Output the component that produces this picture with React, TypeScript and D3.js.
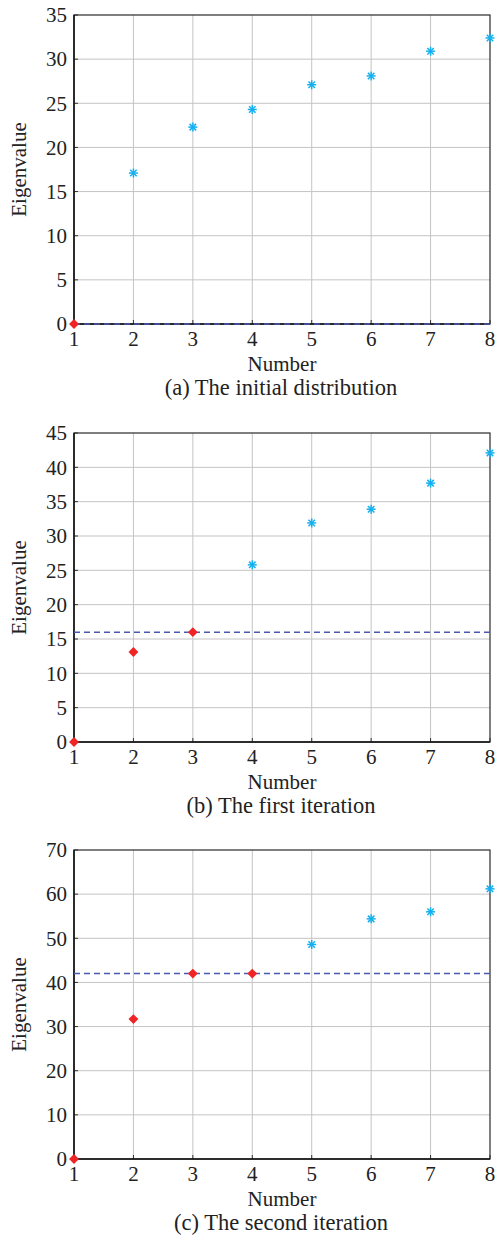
import React from "react";
import * as d3 from "d3";

// x positions (eigenvalue index)
const numbers = [1, 2, 3, 4, 5, 6, 7, 8];

// eigenvalues per stage
const eigenInitial = [0, 17.1, 22.3, 24.3, 27.1, 28.1, 30.9, 32.4];
const eigenFirst = [0, 13.1, 16.0, 25.8, 31.9, 33.9, 37.7, 42.1];
const eigenSecond = [0, 31.7, 42.0, 42.0, 48.6, 54.4, 56.0, 61.2];

// how many leading points are marked red, and the dashed threshold
const selectedCounts = [1, 3, 4];
const thresholds = [0, 16, 42];

const yMaxes = [35, 45, 70];
const yTicksList = [
  [0, 5, 10, 15, 20, 25, 30, 35],
  [0, 5, 10, 15, 20, 25, 30, 35, 40, 45],
  [0, 10, 20, 30, 40, 50, 60, 70],
];
const captions = [
  "(a) The initial distribution",
  "(b) The first iteration",
  "(c) The second iteration",
];
const series = [eigenInitial, eigenFirst, eigenSecond];

const W = 501;
const H = 1236;
const left = 74;
const right = 490;
const plotH = 309;
const tops = [15, 433, 850];
const font = "'Liberation Serif', 'Times New Roman', serif";
const fs = 21;

const diamond = d3.symbol().type(d3.symbolDiamond2).size(62)();

function Asterisk({ x, y }: { x: number; y: number }) {
  const r = 4.5;
  const d = r * 0.72;
  return (
    <g stroke="#14b0f0" strokeWidth={1.5}>
      <line x1={x - r} y1={y} x2={x + r} y2={y} />
      <line x1={x} y1={y - r} x2={x} y2={y + r} />
      <line x1={x - d} y1={y - d} x2={x + d} y2={y + d} />
      <line x1={x - d} y1={y + d} x2={x + d} y2={y - d} />
    </g>
  );
}

function Panel({ idx }: { idx: number }) {
  const top = tops[idx];
  const bottom = top + plotH;
  const x = d3.scaleLinear().domain([1, 8]).range([left, right]);
  const y = d3.scaleLinear().domain([0, yMaxes[idx]]).range([bottom, top]);
  const vals = series[idx];
  const nSel = selectedCounts[idx];

  return (
    <g fontFamily={font} fill="#222">
      {/* grid */}
      {numbers.slice(1, -1).map((n) => (
        <line key={"gx" + n} x1={x(n)} x2={x(n)} y1={top} y2={bottom} stroke="#c4c4c4" strokeWidth={1} />
      ))}
      {yTicksList[idx].slice(1, -1).map((t) => (
        <line key={"gy" + t} x1={left} x2={right} y1={y(t)} y2={y(t)} stroke="#c4c4c4" strokeWidth={1} />
      ))}
      {/* ticks */}
      {numbers.map((n) => (
        <line key={"tx" + n} x1={x(n)} x2={x(n)} y1={bottom} y2={bottom - 4} stroke="#333" strokeWidth={1} />
      ))}
      {yTicksList[idx].map((t) => (
        <line key={"ty" + t} x1={left} x2={left + 4} y1={y(t)} y2={y(t)} stroke="#333" strokeWidth={1} />
      ))}
      {/* box */}
      <rect x={left} y={top} width={right - left} height={plotH} fill="none" stroke="#2a2a2a" strokeWidth={1.2} />
      <line x1={left} x2={left} y1={top} y2={bottom} stroke="#111" strokeWidth={1.5} />
      <line x1={left} x2={right} y1={bottom} y2={bottom} stroke="#111" strokeWidth={1.5} />
      {/* threshold */}
      <line
        x1={x(1)}
        x2={x(8)}
        y1={y(thresholds[idx])}
        y2={y(thresholds[idx])}
        stroke="#4a58b0"
        strokeWidth={1.5}
        strokeDasharray="6,4"
      />
      {/* points */}
      {vals.map((v, i) =>
        i < nSel ? (
          <path key={"p" + i} d={diamond!} transform={`translate(${x(numbers[i])},${y(v)})`} fill="#f02424" />
        ) : (
          <Asterisk key={"p" + i} x={x(numbers[i])} y={y(v)} />
        )
      )}
      {/* tick labels */}
      {numbers.map((n) => (
        <text key={"lx" + n} x={x(n)} y={bottom + 22} textAnchor="middle" fontSize={fs}>
          {n}
        </text>
      ))}
      {yTicksList[idx].map((t) => (
        <text key={"ly" + t} x={left - 7} y={y(t)} dy="0.35em" textAnchor="end" fontSize={fs}>
          {t}
        </text>
      ))}
      <text x={(left + right) / 2} y={bottom + 47} textAnchor="middle" fontSize={fs}>
        Number
      </text>
      <text x={(left + right) / 2 - 1} y={bottom + 71} textAnchor="middle" fontSize={22.5}>
        {captions[idx]}
      </text>
      <text
        transform={`translate(26,${(top + bottom) / 2}) rotate(-90)`}
        textAnchor="middle"
        fontSize={fs}
      >
        Eigenvalue
      </text>
    </g>
  );
}

export default function App() {
  return (
    <svg
      width={W}
      height={H}
      viewBox={`0 0 ${W} ${H}`}
      style={{ position: "absolute", left: 0, top: 0, background: "#fff" }}
    >
      <rect width={W} height={H} fill="#fff" />
      {[0, 1, 2].map((i) => (
        <Panel key={i} idx={i} />
      ))}
    </svg>
  );
}
